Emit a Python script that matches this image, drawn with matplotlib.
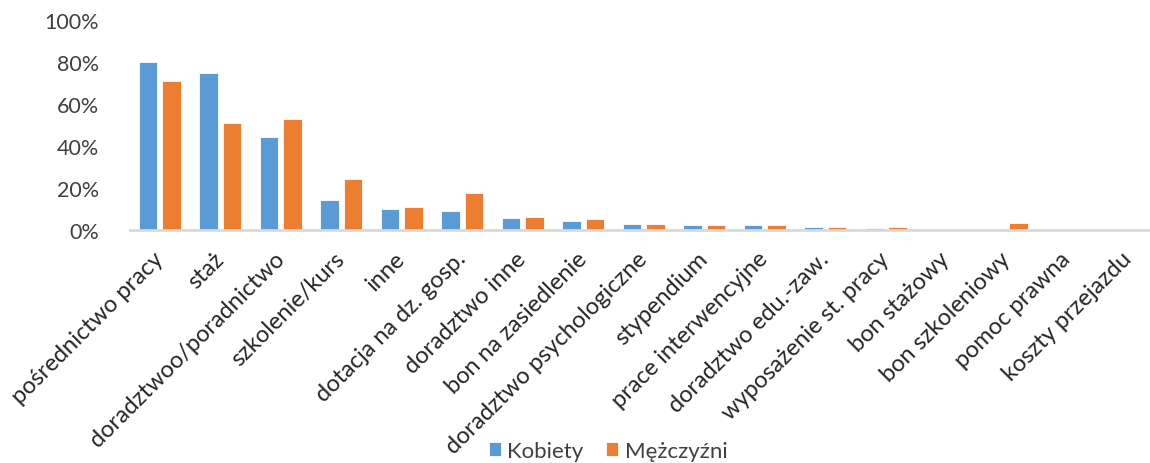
import matplotlib
matplotlib.use("Agg")
import matplotlib.pyplot as plt
import numpy as np

categories = ["pośrednictwo pracy", "staż", "doradztwoo/poradnictwo", "szkolenie/kurs",
              "inne", "dotacja na dz. gosp.", "doradztwo inne", "bon na zasiedlenie",
              "doradztwo psychologiczne", "stypendium", "prace interwencyjne",
              "doradztwo edu.-zaw.", "wyposażenie st. pracy", "bon stażowy",
              "bon szkoleniowy", "pomoc prawna", "koszty przejazdu"]
kobiety = [80, 75, 44.5, 14.3, 10, 9, 5.6, 4.1, 3.0, 2.4, 2.4, 1.3, 0.8, 0, 0, 0, 0]
mezczyzni = [71, 51, 52.7, 24.3, 11.1, 17.8, 6.2, 5.2, 3.0, 2.4, 2.4, 1.3, 1.3, 0, 3.5, 0, 0]
yticks = [0, 20, 40, 60, 80, 100]
ytick_labels = ["0%", "20%", "40%", "60%", "80%", "100%"]

plt.rcParams['font.family'] = ['Lato', 'DejaVu Sans']

W, H = 1150, 464
fig = plt.figure(figsize=(W / 100, H / 100), dpi=100)
left = 129.5 / W
bottom = (H - 231) / H
top = (H - 21) / H
ax = fig.add_axes([left, bottom, 1028.5 / W, top - bottom])

x = np.arange(len(categories))
bw = 0.306
off = 0.197
blue = "#5B9BD5"
orange = "#ED7D31"
ax.bar(x - off, kobiety, bw, color=blue, edgecolor="white", linewidth=0.6, label="Kobiety")
ax.bar(x + off, mezczyzni, bw, color=orange, edgecolor="white", linewidth=0.6, label="Mężczyźni")

ax.set_xlim(-0.5, len(categories) - 0.5)
ax.set_ylim(0, 100)
ax.set_yticks(yticks)
ax.set_yticklabels(ytick_labels, fontsize=15.5, color="#404040")
ax.set_xticks(x)
ax.set_xticklabels(categories, rotation=45, ha="right", va="center",
                   rotation_mode="anchor", fontsize=17, color="#262626")
ax.tick_params(axis="both", length=0)
ax.tick_params(axis="y", pad=22)
ax.tick_params(axis="x", pad=18)

for s in ["top", "right", "left"]:
    ax.spines[s].set_visible(False)
ax.spines["bottom"].set_color("#D9D9D9")
ax.spines["bottom"].set_linewidth(2)

fig.legend(loc="center", bbox_to_anchor=(608 / W, 1 - 452 / H), ncol=2, frameon=False,
           fontsize=16, handlelength=0.55, handleheight=0.55, handletextpad=0.3,
           columnspacing=1.0, labelcolor="#404040")

fig.savefig("out.png", dpi=100)
